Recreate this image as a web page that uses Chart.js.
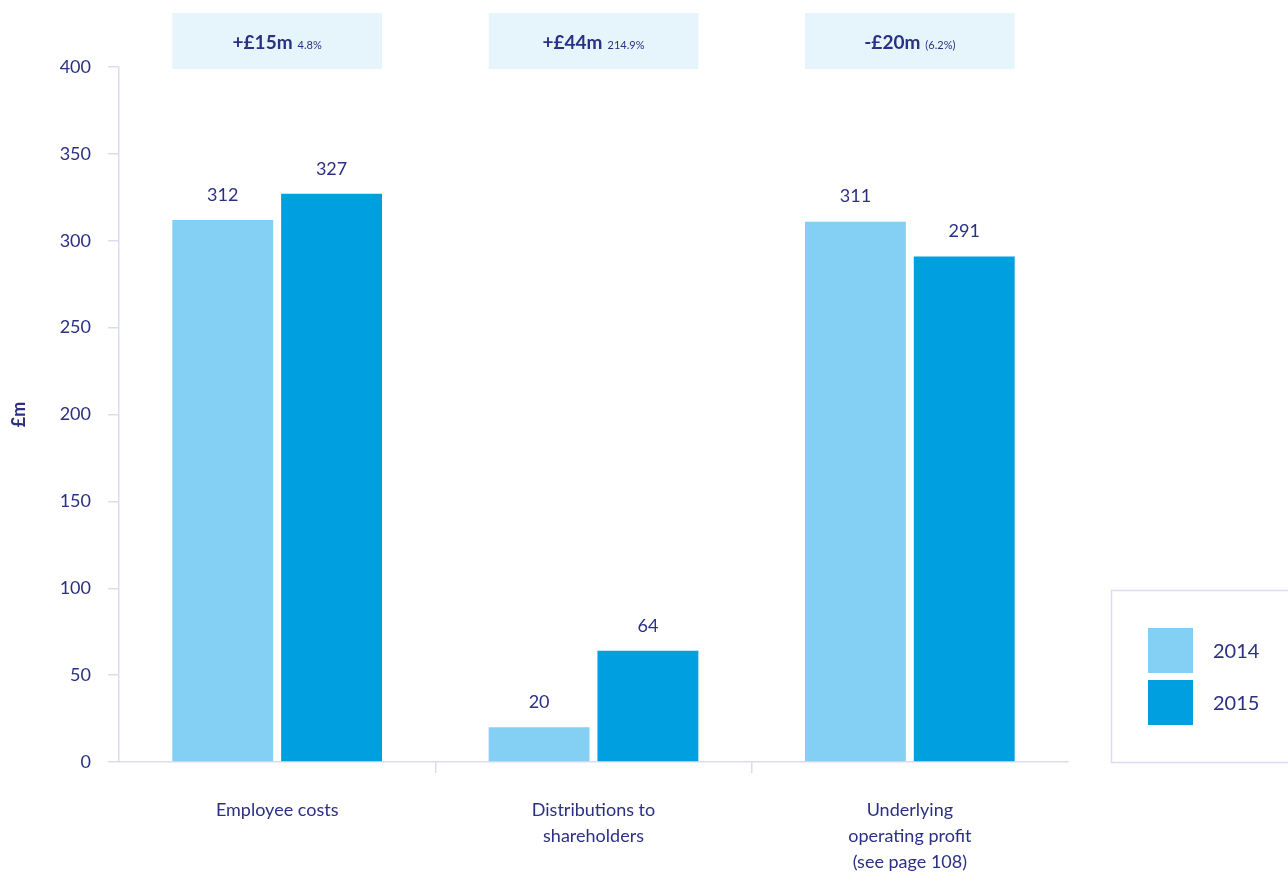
<!DOCTYPE html>
<html>
<head>
<meta charset="utf-8">
<script src="https://cdn.jsdelivr.net/npm/chart.js@4/dist/chart.umd.min.js"></script>
<style>
  html, body { margin: 0; padding: 0; background: #fff; }
  #wrap { width: 1288px; height: 874px; position: relative; }
</style>
</head>
<body>
<div id="wrap"><canvas id="chart"></canvas></div>
<script>
const categories = [
    "Employee costs",
    ["Distributions to", "shareholders"],
    ["Underlying", "operating profit", "(see page 108)"]
];
const years = ["2014", "2015"];
const values2014 = [312, 20, 311];
const values2015 = [327, 64, 291];
const changeValues = ["+£15m", "+£44m", "-£20m"];
const changePercents = ["4.8%", "214.9%", "(6.2%)"];

const navy = "#2b3084";
const lineColor = "#dcdcef";
const fontFamily = "Lato, 'Open Sans', sans-serif";

// only the inner category dividers get a tick mark
const dividerColor = c => (c.type === "tick" && c.index > 0) ? lineColor : "rgba(0,0,0,0)";

// labels above bars, change boxes on top, legend box on the right
const extras = {
    id: "extras",
    afterDatasetsDraw(chart) {
        const ctx = chart.ctx;
        const m0 = chart.getDatasetMeta(0);
        const m1 = chart.getDatasetMeta(1);

        ctx.save();
        ctx.fillStyle = navy;
        ctx.font = "18px " + fontFamily;
        ctx.textAlign = "center";
        ctx.textBaseline = "bottom";
        [m0, m1].forEach((meta, d) => {
            meta.data.forEach((bar, i) => {
                ctx.fillText(chart.data.datasets[d].data[i], bar.x, bar.y - 16);
            });
        });

        // change boxes
        m0.data.forEach((bar, i) => {
            const left = bar.x - bar.width / 2;
            const right = m1.data[i].x + m1.data[i].width / 2;
            ctx.fillStyle = "#e6f4fc";
            ctx.fillRect(left, 13, right - left, 56);

            ctx.font = "bold 19px " + fontFamily;
            const w1 = ctx.measureText(changeValues[i]).width;
            ctx.font = "11px " + fontFamily;
            const w2 = ctx.measureText(changePercents[i]).width;
            const total = w1 + 5 + w2;
            const cx = (left + right) / 2;
            ctx.fillStyle = navy;
            ctx.textAlign = "left";
            ctx.textBaseline = "alphabetic";
            ctx.font = "bold 19px " + fontFamily;
            ctx.fillText(changeValues[i], cx - total / 2, 49);
            ctx.font = "11px " + fontFamily;
            ctx.fillText(changePercents[i], cx - total / 2 + w1 + 5, 49);
        });

        // legend
        ctx.strokeStyle = lineColor;
        ctx.lineWidth = 1.5;
        ctx.strokeRect(1111.5, 590.5, 190, 172);
        chart.data.datasets.forEach((ds, d) => {
            const y = 628 + d * 52;
            ctx.fillStyle = ds.backgroundColor;
            ctx.fillRect(1148, y, 45, 45);
            ctx.fillStyle = navy;
            ctx.font = "20px " + fontFamily;
            ctx.textAlign = "left";
            ctx.textBaseline = "middle";
            ctx.fillText(ds.label, 1213, y + 24);
        });
        ctx.restore();
    }
};

new Chart(document.getElementById("chart"), {
    type: "bar",
    data: {
        labels: categories,
        datasets: [
            { label: years[0], data: values2014, backgroundColor: "#84cff4" },
            { label: years[1], data: values2015, backgroundColor: "#009fe0" }
        ]
    },
    options: {
        responsive: true,
        maintainAspectRatio: false,
        animation: false,
        categoryPercentage: 0.688,
        barPercentage: 0.927,
        layout: { padding: { top: 67, right: 220, left: 0, bottom: 0 } },
        plugins: {
            legend: { display: false },
            tooltip: { enabled: false }
        },
        scales: {
            x: {
                offset: true,
                afterFit: s => { s.height = 112; },
                border: { color: lineColor, width: 1.5 },
                grid: {
                    offset: true,
                    drawOnChartArea: false,
                    color: dividerColor,
                    tickColor: dividerColor,
                    lineWidth: 1.5,
                    tickLength: 11
                },
                ticks: {
                    color: navy,
                    padding: 24,
                    maxRotation: 0,
                    font: { family: fontFamily, size: 18, lineHeight: 1.45 }
                }
            },
            y: {
                min: 0,
                max: 400,
                afterFit: s => { s.width = 119; },
                border: { color: lineColor, width: 1.5 },
                grid: {
                    drawOnChartArea: false,
                    color: lineColor,
                    lineWidth: 1.5,
                    tickLength: 11
                },
                ticks: {
                    stepSize: 50,
                    color: navy,
                    padding: 17,
                    font: { family: fontFamily, size: 18 }
                },
                title: {
                    display: true,
                    text: "£m",
                    color: navy,
                    padding: { top: 8, bottom: 12 },
                    font: { family: fontFamily, size: 18, weight: "bold" }
                }
            }
        }
    },
    plugins: [extras]
});
</script>
</body>
</html>
